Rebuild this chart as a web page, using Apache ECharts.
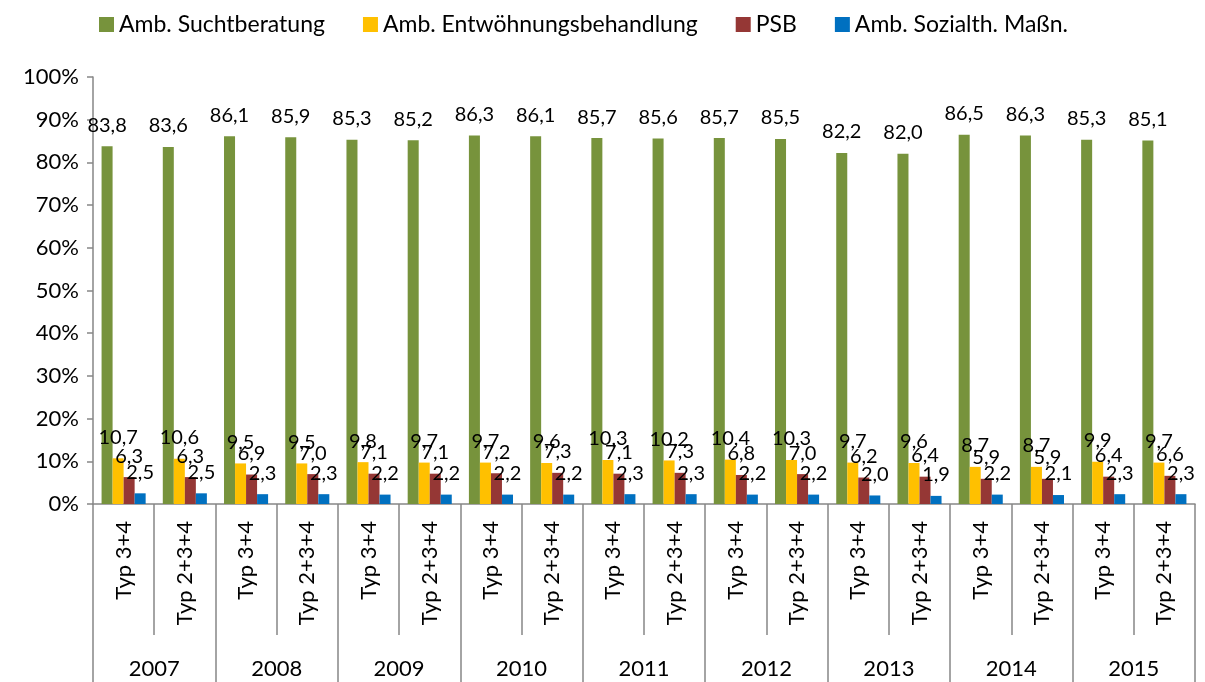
<!DOCTYPE html>
<html>
<head>
<meta charset="utf-8">
<script src="https://cdn.jsdelivr.net/npm/echarts@6/dist/echarts.min.js"></script>
<style>
    html, body { margin: 0; padding: 0; background: #fff; }
    #chart { width: 1205px; height: 682px; }
</style>
</head>
<body>
<div id="chart"></div>
<script>
// Kategorien (2 Typen je Jahr)
const types = ['Typ 3+4', 'Typ 2+3+4'];
const years = ['2007', '2008', '2009', '2010', '2011', '2012', '2013', '2014', '2015'];
const categories = [];
years.forEach(function (y) {
    types.forEach(function (t) { categories.push(t); });
});

const seriesNames = ['Amb. Suchtberatung', 'Amb. Entwöhnungsbehandlung', 'PSB', 'Amb. Sozialth. Maßn.'];
const suchtberatung = [83.8, 83.6, 86.1, 85.9, 85.3, 85.2, 86.3, 86.1, 85.7, 85.6, 85.7, 85.5, 82.2, 82.0, 86.5, 86.3, 85.3, 85.1];
const entwoehnung = [10.7, 10.6, 9.5, 9.5, 9.8, 9.7, 9.7, 9.6, 10.3, 10.2, 10.4, 10.3, 9.7, 9.6, 8.7, 8.7, 9.9, 9.7];
const psb = [6.3, 6.3, 6.9, 7.0, 7.1, 7.1, 7.2, 7.3, 7.1, 7.3, 6.8, 7.0, 6.2, 6.4, 5.9, 5.9, 6.4, 6.6];
const sozialth = [2.5, 2.5, 2.3, 2.3, 2.2, 2.2, 2.2, 2.2, 2.3, 2.3, 2.2, 2.2, 2.0, 1.9, 2.2, 2.1, 2.3, 2.3];
const colors = ['#77933C', '#FFC000', '#953735', '#0070C0'];

const fontFamily = 'Lato, "Open Sans", sans-serif';
const axisColor = '#868686';

const chart = echarts.init(document.getElementById('chart'));

function makeSeries(name, data, color) {
    return {
        name: name,
        type: 'bar',
        data: data,
        barGap: '0%',
        barCategoryGap: '28%',
        itemStyle: { color: color },
        label: {
            show: true,
            position: 'top',
            distance: 11,
            color: '#000',
            fontSize: 20,
            fontFamily: fontFamily,
            formatter: function (p) { return p.value.toFixed(1).replace('.', ','); }
        }
    };
}

chart.setOption({
    animation: false,
    color: colors,
    legend: {
        top: 8,
        left: 94,
        itemWidth: 15,
        itemHeight: 15,
        itemGap: 38,
        icon: 'rect',
        textStyle: { fontSize: 23, fontFamily: fontFamily, color: '#000' },
        data: seriesNames
    },
    grid: {
        left: 93,
        right: 10,
        top: 77,
        bottom: 178
    },
    xAxis: [
        {
            type: 'category',
            data: categories,
            position: 'bottom',
            axisLine: { show: true, lineStyle: { color: axisColor, width: 1.5 } },
            axisTick: { show: true, length: 131, lineStyle: { color: axisColor, width: 1.5 } },
            axisLabel: {
                rotate: 90,
                margin: 17,
                interval: 0,
                fontSize: 22,
                fontFamily: fontFamily,
                color: '#000'
            }
        },
        {
            type: 'category',
            data: years,
            position: 'bottom',
            axisLine: { show: false },
            axisTick: { show: true, length: 178, lineStyle: { color: axisColor, width: 1.5 } },
            axisLabel: {
                margin: 154,
                interval: 0,
                fontSize: 22,
                fontFamily: fontFamily,
                color: '#000'
            }
        }
    ],
    yAxis: {
        type: 'value',
        min: 0,
        max: 100,
        interval: 10,
        axisLine: { show: true, lineStyle: { color: axisColor, width: 1.5 } },
        axisTick: { show: true, length: 6, lineStyle: { color: axisColor, width: 1.5 } },
        splitLine: { show: false },
        axisLabel: {
            formatter: '{value}%',
            margin: 14,
            fontSize: 22,
            fontFamily: fontFamily,
            color: '#000'
        }
    },
    series: [
        makeSeries(seriesNames[0], suchtberatung, colors[0]),
        makeSeries(seriesNames[1], entwoehnung, colors[1]),
        makeSeries(seriesNames[2], psb, colors[2]),
        makeSeries(seriesNames[3], sozialth, colors[3])
    ]
});
</script>
</body>
</html>
